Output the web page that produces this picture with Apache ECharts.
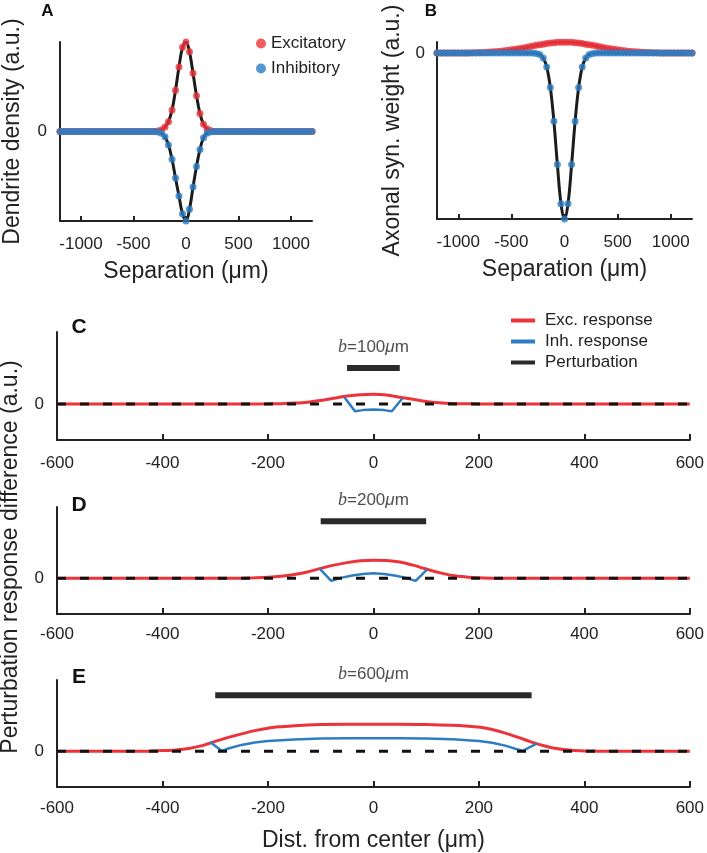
<!DOCTYPE html>
<html><head><meta charset="utf-8">
<script src="https://cdn.jsdelivr.net/npm/echarts@6/dist/echarts.min.js"></script>
<style>html,body{margin:0;padding:0;background:#fff}#c{width:707px;height:853px}</style>
</head><body><div id="c"></div>
<script>
// ---------- Data ----------
// Panels A & B: separation grid (µm)
const xSep = [-1200,-1167,-1133,-1100,-1067,-1033,-1000,-967,-933,-900,
  -867,-833,-800,-767,-733,-700,-667,-633,-600,-567,
  -533,-500,-467,-433,-400,-367,-333,-300,-267,-233,
  -200,-167,-133,-100,-67,-33,0,33,67,100,
  133,167,200,233,267,300,333,367,400,433,
  467,500,533,567,600,633,667,700,733,767,
  800,833,867,900,933,967,1000,1033,1067,1100,
  1133,1167,1200];
const aExc = [0,0,0,0,0,0,0,0,0,0,
  0,0,0,0,0,0,0,0,0,0,
  0,0,0,0,0,0,0,0,0.005,0.02,
  0.05,0.11,0.24,0.46,0.72,0.94,1,0.89,0.65,0.40,
  0.20,0.08,0.03,0.01,0,0,0,0,0,0,
  0,0,0,0,0,0,0,0,0,0,
  0,0,0,0,0,0,0,0,0,0,
  0,0,0];
const aInh = [0,0,0,0,0,0,0,0,0,0,
  0,0,0,0,0,0,0,0,0,0,
  0,0,0,0,0,0,0,0,-0.005,-0.02,
  -0.06,-0.15,-0.31,-0.52,-0.72,-0.92,-1,-0.87,-0.62,-0.39,
  -0.2,-0.07,-0.02,-0.005,0,0,0,0,0,0,
  0,0,0,0,0,0,0,0,0,0,
  0,0,0,0,0,0,0,0,0,0,
  0,0,0];
const bExc = [0,0,0,0,0,0,0,0.001,0.001,0.001,
  0.002,0.002,0.003,0.004,0.005,0.006,0.008,0.009,0.011,0.014,
  0.017,0.020,0.023,0.026,0.030,0.034,0.038,0.043,0.047,0.051,
  0.054,0.058,0.061,0.063,0.065,0.066,0.066,0.066,0.065,0.063,
  0.061,0.058,0.054,0.051,0.047,0.043,0.038,0.034,0.030,0.026,
  0.023,0.020,0.017,0.014,0.011,0.009,0.008,0.006,0.005,0.004,
  0.003,0.002,0.002,0.001,0.001,0.001,0,0,0,0,
  0,0,0];
const bInh = [0,0,0,0,0,0,0,0,0,0,
  0,0,0,0,0,0,0,0,0,0,
  0,0,0,0,0,0,0,0,-0.002,-0.008,
  -0.029,-0.084,-0.208,-0.411,-0.671,-0.908,-1,-0.908,-0.671,-0.411,
  -0.208,-0.084,-0.029,-0.008,-0.002,0,0,0,0,0,
  0,0,0,0,0,0,0,0,0,0,
  0,0,0,0,0,0,0,0,0,0,
  0,0,0];
const sepTicks = [-1000, -500, 0, 500, 1000];

// Panels C, D, E: responses vs distance from center (µm)
const cExcX = [-600,-250,-200,-175,-150,-125,-100,-75,-50,-25,0,25,50,75,100,125,150,175,200,250,600];
const cExcY = [0,0,0.005,0.01,0.025,0.05,0.1,0.16,0.22,0.26,0.27,0.25,0.19,0.13,0.07,0.035,0.015,0.007,0.003,0,0];
const cInhX = [-55,-35,-20,0,20,35,55];
const cInhY = [0.19,-0.2,-0.17,-0.15,-0.17,-0.2,0.16];

const dExcX = [-600,-275,-250,-225,-200,-175,-150,-125,-100,-75,-50,-25,0,25,50,75,100,125,150,175,200,225,250,600];
const dExcY = [0,0,0.005,0.015,0.03,0.06,0.11,0.18,0.28,0.37,0.44,0.49,0.51,0.5,0.46,0.37,0.26,0.16,0.08,0.04,0.015,0.005,0,0];
const dInhX = [-102,-80,-60,-40,-20,0,20,40,60,80,102];
const dInhY = [0.27,-0.07,0.02,0.08,0.12,0.14,0.12,0.08,0.02,-0.07,0.25];

const eExcX = [-600,-450,-425,-400,-375,-350,-325,-300,-275,-250,-225,-200,-175,-150,-100,-50,0,50,100,150,175,200,225,250,275,300,325,350,375,400,425,450,600];
const eExcY = [0,0,0.005,0.02,0.04,0.08,0.16,0.28,0.39,0.49,0.58,0.65,0.69,0.72,0.75,0.76,0.76,0.76,0.75,0.73,0.71,0.68,0.61,0.51,0.39,0.26,0.15,0.07,0.03,0.012,0.005,0,0];
const eInhX = [-310,-287,-275,-250,-225,-200,-150,-100,-50,0,50,100,150,200,225,250,283,310];
const eInhY = [0.26,0.01,0.08,0.18,0.25,0.29,0.33,0.36,0.37,0.37,0.37,0.36,0.34,0.29,0.24,0.16,0.01,0.22];

const baseX = [-600, 600];
const baseY = [0, 0];
const barX = [[-50, 50], [-100, 100], [-300, 300]];
const barLevel = [1, 1.6, 1.57];
const barWidthText = ['100', '200', '600'];
const panelLetters = ['A', 'B', 'C', 'D', 'E'];

// ---------- Chart ----------
const F = 'Liberation Sans, Arial, Helvetica, sans-serif';
const INK = '#222';
const RED = '#EC3339', BLUE = '#2D7DC3', BLK = '#1c1c1c';
const zip = (xs, ys) => xs.map((x, i) => [x, ys[i]]);
const zipC = (xs, c) => xs.map(x => [x, c]);
const fmt = v => String(v);
const axLine = {show: true, onZero: false, lineStyle: {color: INK, width: 2}};

const grids = [
  {left: 57, top: 42, width: 255, height: 179},
  {left: 437, top: 42, width: 255, height: 177},
  {left: 57, top: 332, width: 635, height: 108},
  {left: 57, top: 507, width: 635, height: 107},
  {left: 57, top: 680, width: 635, height: 107}
];

const xAxes = [], yAxes = [], series = [];
[0, 1].forEach(g => {
  xAxes.push({gridIndex: g, type: 'value', min: -1200, max: 1200,
    axisLine: axLine,
    axisTick: {show: true, inside: true, length: 5, customValues: sepTicks, lineStyle: {color: INK, width: 2}},
    axisLabel: {customValues: sepTicks, formatter: fmt, fontSize: 17, color: INK, fontFamily: F, margin: 15},
    splitLine: {show: false},
    name: 'Separation (μm)', nameLocation: 'middle', nameGap: 39,
    nameTextStyle: {fontSize: 23, color: INK, fontFamily: F}});
});
yAxes.push({gridIndex: 0, type: 'value', min: -1, max: 1, axisLine: axLine, axisTick: {show: false},
  axisLabel: {customValues: [0], formatter: fmt, fontSize: 17, color: INK, fontFamily: F, margin: 13},
  splitLine: {show: false}, name: 'Dendrite density (a.u.)', nameLocation: 'middle', nameRotate: 90, nameGap: 36,
  nameTextStyle: {fontSize: 23, color: INK, fontFamily: F}});
yAxes.push({gridIndex: 1, type: 'value', min: -1, max: 0.067, axisLine: axLine, axisTick: {show: false},
  axisLabel: {customValues: [0], formatter: fmt, fontSize: 17, color: INK, fontFamily: F, margin: 12},
  splitLine: {show: false}, name: 'Axonal syn. weight (a.u.)', nameLocation: 'middle', nameRotate: 90, nameGap: 33,
  nameTextStyle: {fontSize: 23, color: INK, fontFamily: F}});

const labelMargins = [15, 12, 13];
[2, 3, 4].forEach((g, i) => {
  xAxes.push({gridIndex: g, type: 'value', min: -600, max: 600, interval: 200,
    axisLine: axLine,
    axisTick: {show: true, inside: true, length: 6, lineStyle: {color: INK, width: 2}},
    axisLabel: {formatter: fmt, fontSize: 17, color: INK, fontFamily: F, margin: labelMargins[i], showMinLabel: true, showMaxLabel: true},
    splitLine: {show: false},
    name: g === 4 ? 'Dist. from center (μm)' : '', nameLocation: 'middle', nameGap: 42,
    nameTextStyle: {fontSize: 23, color: INK, fontFamily: F}});
  yAxes.push({gridIndex: g, type: 'value', min: -1, max: 2, axisLine: axLine, axisTick: {show: false},
    axisLabel: {customValues: [0], formatter: fmt, fontSize: 17, color: INK, fontFamily: F, margin: 13},
    splitLine: {show: false}});
});

// A & B
const abData = [[aExc, aInh], [bExc, bInh]];
abData.forEach((d, g) => {
  [d[0], d[1]].forEach(vals => series.push({type: 'line', xAxisIndex: g, yAxisIndex: g, data: zip(xSep, vals),
    smooth: 0.4, showSymbol: false, silent: true, lineStyle: {color: BLK, width: 3}, z: 1}));
  series.push({type: 'scatter', name: 'Excitatory', xAxisIndex: g, yAxisIndex: g, data: zip(xSep, d[0]),
    symbolSize: 7, clip: false, itemStyle: {color: RED}, z: 2});
  series.push({type: 'scatter', name: 'Inhibitory', xAxisIndex: g, yAxisIndex: g, data: zip(xSep, d[1]),
    symbolSize: 7, clip: false, itemStyle: {color: BLUE}, z: 3});
});

// C, D, E
const excX = [cExcX, dExcX, eExcX], excY = [cExcY, dExcY, eExcY];
const inhX = [cInhX, dInhX, eInhX], inhY = [cInhY, dInhY, eInhY];
[2, 3, 4].forEach((g, i) => {
  series.push({type: 'line', name: 'Exc. response', xAxisIndex: g, yAxisIndex: g, data: zip(excX[i], excY[i]),
    smooth: 0.3, showSymbol: false, lineStyle: {color: RED, width: 3}, itemStyle: {color: RED}, z: 2});
  series.push({type: 'line', name: 'Inh. response', xAxisIndex: g, yAxisIndex: g, data: zip(inhX[i], inhY[i]),
    showSymbol: false, lineStyle: {color: BLUE, width: 2.5}, itemStyle: {color: BLUE}, z: 3});
  series.push({type: 'line', name: 'baseline', xAxisIndex: g, yAxisIndex: g, data: zip(baseX, baseY),
    showSymbol: false, silent: true, lineStyle: {color: '#111', width: 3, type: [9, 14]}, z: 4});
  series.push({type: 'line', name: 'Perturbation', xAxisIndex: g, yAxisIndex: g, data: zipC(barX[i], barLevel[i]),
    showSymbol: false, lineStyle: {color: '#2a2a2a', width: 6, cap: 'butt'}, itemStyle: {color: '#2a2a2a'}, z: 4});
  series.push({type: 'scatter', xAxisIndex: g, yAxisIndex: g, data: [[0, barLevel[i]]], symbolSize: 0, silent: true,
    label: {show: true, position: 'top', distance: 12,
      formatter: '{i|b}=' + barWidthText[i] + '{m|μ}m', fontSize: 17, color: INK, fontFamily: F,
      rich: {i: {fontStyle: 'italic', fontFamily: 'Liberation Serif', fontSize: 18, color: INK},
             m: {fontStyle: 'italic', fontFamily: F, fontSize: 17, color: INK}}}, z: 5});
});

const letterPos = [[47.5, 11, 17], [431, 11, 17], [79, 327.5, 21], [79, 505, 21], [79, 677.5, 21]];
const graphics = panelLetters.map((t, i) => ({type: 'text', x: letterPos[i][0], y: letterPos[i][1],
  style: {text: t, fontSize: letterPos[i][2], fontWeight: 'bold', fontFamily: F, fill: '#111', align: 'center', verticalAlign: 'middle'}}));
graphics.push({type: 'text', x: 11, y: 557, rotation: Math.PI / 2,
  style: {text: 'Perturbation response difference (a.u.)', fontSize: 23, fontFamily: F, fill: INK, align: 'center', verticalAlign: 'middle'}});

const chart = echarts.init(document.getElementById('c'), null, {renderer: 'canvas'});
chart.setOption({
  animation: false,
  backgroundColor: '#fff',
  grid: grids,
  xAxis: xAxes,
  yAxis: yAxes,
  legend: [
    {data: [{name: 'Excitatory', icon: 'circle'}, {name: 'Inhibitory', icon: 'circle'}], orient: 'vertical',
      left: 256, top: 31, padding: 0, itemWidth: 10, itemHeight: 10, itemGap: 0, selectedMode: false,
      textStyle: {fontSize: 17, color: INK, fontFamily: F, lineHeight: 25}},
    {data: ['Exc. response', 'Inh. response', 'Perturbation'], orient: 'vertical', icon: 'rect',
      left: 511, top: 310, padding: 0, itemWidth: 24, itemHeight: 4, itemGap: 0, selectedMode: false,
      textStyle: {fontSize: 17, color: INK, fontFamily: F, lineHeight: 21, padding: [0, 0, 0, 5]}}
  ],
  graphic: graphics,
  series: series
});
</script></body></html>
